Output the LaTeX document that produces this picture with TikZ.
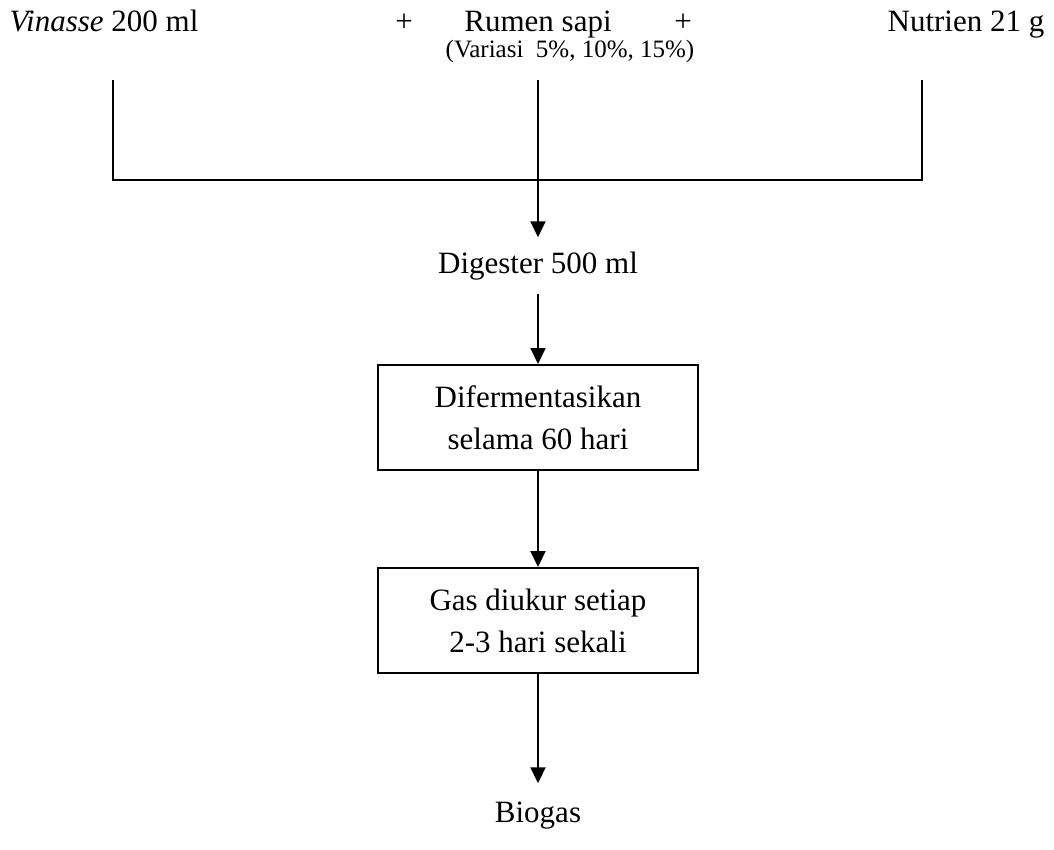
\documentclass[tikz,border=0pt]{standalone}
\usepackage{fontspec}
\setmainfont{Liberation Serif}
\usetikzlibrary{arrows.meta}
\begin{document}
\begin{tikzpicture}[x=1pt,y=-1pt,
  txt/.style={inner sep=0pt,anchor=base,font=\fontsize{31}{37}\selectfont},
  small/.style={inner sep=0pt,anchor=base,font=\fontsize{25}{30}\selectfont},
  procbox/.style={draw,line width=2pt,minimum width=320pt,minimum height=105pt,inner sep=0pt,
    align=center,font=\fontsize{31}{42}\selectfont},
  conn/.style={line width=2pt},
  arr/.style={line width=2pt,-{Triangle[width=15pt,length=16pt]}}]
\useasboundingbox (0,0) rectangle (1054,850);
\node[txt] (vin) at (104,32) {\textit{Vinasse} 200 ml};
\node[txt] (p1) at (404,32) {+};
\node[txt] (rum) at (538,32) {Rumen sapi};
\node[small] (var) at (570,58) {(Variasi\ \ 5\%, 10\%, 15\%)};
\node[txt] (p2) at (683,32) {+};
\node[txt] (nut) at (966,32) {Nutrien 21 g};
\coordinate (L) at (113,80);
\coordinate (R) at (922,80);
\coordinate (M) at (538,80);
\draw[conn] (L) |- (538,180) -| (R);
\node[txt,inner ysep=14pt,anchor=base] (dig) at (538,273) {Digester 500 ml};
\draw[arr] (M) -- (dig.north);
\node[procbox] (b1) at (538,417.5) {Difermentasikan\\selama 60 hari};
\node[procbox] (b2) at (538,620.5) {Gas diukur setiap\\2-3 hari sekali};
\node[txt,inner ysep=18pt,anchor=base] (bio) at (538,822) {Biogas};
\draw[arr] (dig.south) -- (b1.north);
\draw[arr] (b1.south) -- (b2.north);
\draw[arr] (b2.south) -- (bio.north);
\end{tikzpicture}
\end{document}
